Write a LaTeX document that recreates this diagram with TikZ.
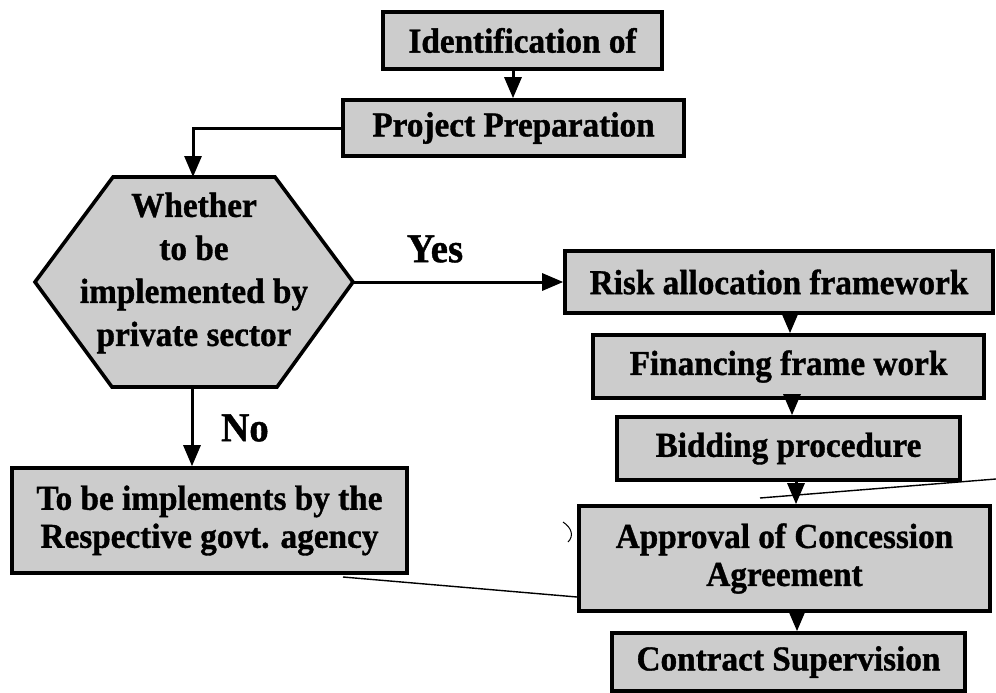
\documentclass[tikz,border=0pt]{standalone}
\usepackage{fontspec}
\setmainfont{Liberation Serif}[FakeStretch=0.95,FakeBold=1]
\usetikzlibrary{arrows.meta,calc}
\begin{document}
\begin{tikzpicture}[x=1pt,y=-1pt,
  boxtxt/.style={font=\bfseries\fontsize{35}{38}\selectfont},
  stepbox/.style={draw, line width=3.6pt, fill=black!20, inner sep=0pt, align=center, boxtxt},
  arr/.style={line width=3pt, -{Triangle[length=21pt,width=17pt]}},
  lbl/.style={font=\bfseries\fontsize{41}{44}\selectfont},
  thinline/.style={line width=1.4pt}]
\useasboundingbox (0,0) rectangle (996,693);
% top boxes
\node[stepbox, minimum width=279pt, minimum height=57pt] (ident) at (522.5,40.5) {Identification of};
\node[stepbox, minimum width=341pt, minimum height=56pt] (prep) at (513.5,128) {Project Preparation};
% hexagon
\coordinate (h1) at (113,177);
\coordinate (h2) at (275,177);
\coordinate (h3) at (353,282);
\coordinate (h4) at (277,387);
\coordinate (h5) at (112,387);
\coordinate (h6) at (35,282);
\coordinate (hexT) at (193,177);
\coordinate (hexB) at (192,387);
\filldraw[line width=3.6pt, fill=black!20, line join=miter] (h1) -- (h2) -- (h3) -- (h4) -- (h5) -- (h6) -- cycle;
\node[align=center, font=\bfseries\fontsize{35}{43}\selectfont, inner sep=0pt] (hex) at (194,273) {Whether\\to be\\implemented by\\private sector};
% left box
\node[stepbox, minimum width=395pt, minimum height=105pt] (govt) at (209.5,520.5) {To be implements by the\\Respective govt. agency};
% right column
\node[stepbox, minimum width=428pt, minimum height=62pt] (risk) at (779,282) {Risk allocation framework};
\node[stepbox, minimum width=391pt, minimum height=63pt] (fin) at (788.5,366.5) {Financing frame work};
\node[stepbox, minimum width=343pt, minimum height=63pt] (bid) at (788.5,448.5) {Bidding procedure};
\node[stepbox, minimum width=411pt, minimum height=105pt] (appr) at (784.5,558.5) {Approval of Concession\\Agreement};
\node[stepbox, minimum width=353pt, minimum height=58pt] (contr) at (788.5,662) {Contract Supervision};
% labels
\node[lbl] (yes) at (435,249) {Yes};
\node[lbl] (no) at (245,428) {No};
% connectors
\coordinate (a0) at (513,0);
\coordinate (a1) at (790,0);
\coordinate (a2) at (792,0);
\coordinate (a3) at (796,0);
\coordinate (a4) at (797,0);
\draw[arr] (ident.south -| a0) -- (prep.north -| a0);
\draw[arr] (prep.west) -| (hexT);
\draw[arr] (h3) -- (risk.west);
\draw[arr] (hexB) -- (govt.north -| hexB);
\draw[arr] (risk.south -| a1) -- (fin.north -| a1);
\draw[arr] (fin.south -| a2) -- (bid.north -| a2);
\draw[arr] (bid.south -| a3) -- (appr.north -| a3);
\draw[arr] (appr.south -| a4) -- (contr.north -| a4);
% thin stray lines
\coordinate (s1) at (343,577);
\coordinate (s2) at (577,597);
\coordinate (s3) at (760,498);
\coordinate (s4) at (996,479);
\draw[thinline] (s1) -- (s2);
\draw[thinline] (s3) -- (s4);
\draw[line width=1pt] (563,522) .. controls (572,528) and (574,536) .. (568,542);
\end{tikzpicture}
\end{document}
